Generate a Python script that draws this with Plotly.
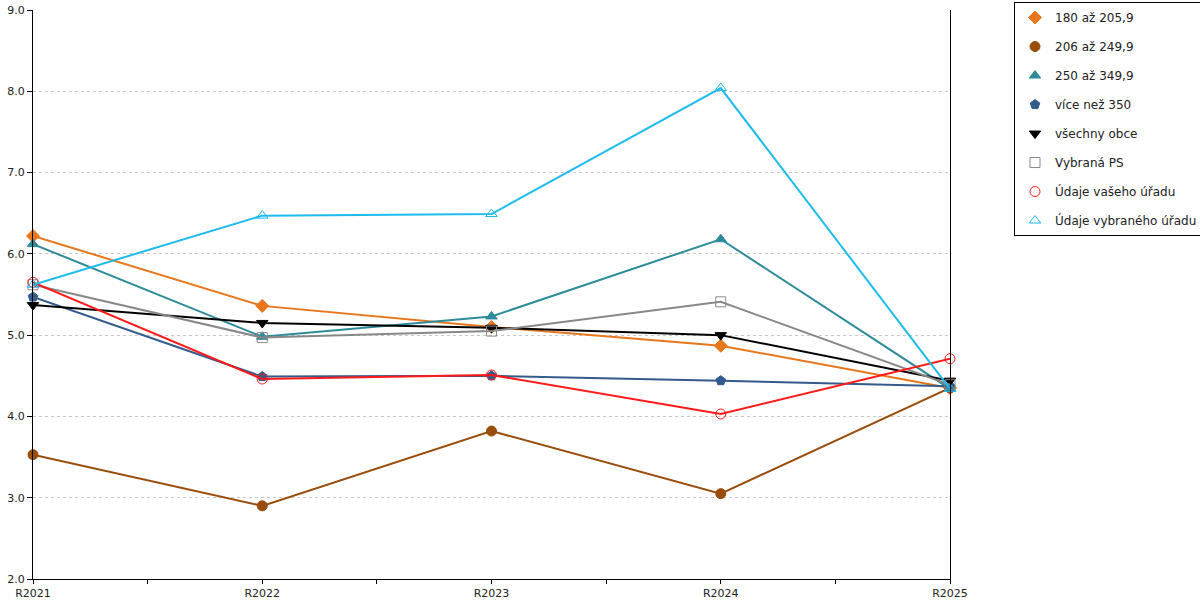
import plotly.graph_objects as go

roky = ['R2021', 'R2022', 'R2023', 'R2024', 'R2025']

s180 = [6.22, 5.36, 5.10, 4.87, 4.35]
s206 = [3.53, 2.90, 3.82, 3.05, 4.35]
s250 = [6.12, 4.98, 5.23, 6.18, 4.34]
s350 = [5.47, 4.49, 4.50, 4.44, 4.37]
vsechny = [5.37, 5.15, 5.09, 5.00, 4.44]
vybrana_ps = [5.62, 4.97, 5.05, 5.41, 4.39]
vas_urad = [5.65, 4.46, 4.51, 4.03, 4.71]
vybrany_urad = [5.62, 6.47, 6.49, 8.04, 4.34]

x = list(range(len(roky)))

serie = [
    ('180 až 205,9', s180, '#E8761C', 'diamond'),
    ('206 až 249,9', s206, '#994D0D', 'circle'),
    ('250 až 349,9', s250, '#2E8B9A', 'triangle-up'),
    ('více než 350', s350, '#335B8C', 'pentagon'),
    ('všechny obce', vsechny, '#000000', 'triangle-down'),
    ('Vybraná PS', vybrana_ps, '#888888', 'square-open'),
    ('Údaje vašeho úřadu', vas_urad, '#FF1A1A', 'circle-open'),
    ('Údaje vybraného úřadu', vybrany_urad, '#1EBBEE', 'triangle-up-open'),
]

fig = go.Figure()
for i, (name, vals, color, symbol) in enumerate(serie):
    # line only, no legend entry
    fig.add_trace(go.Scatter(
        name=name, x=x, y=vals, mode='lines',
        line=dict(color=color, width=2),
        legendgroup=str(i), showlegend=False,
        cliponaxis=False, hoverinfo='skip',
    ))
    # markers, shown in legend (marker only like the original)
    fig.add_trace(go.Scatter(
        name=name, x=x, y=vals, mode='markers',
        marker=dict(color=color, symbol=symbol, size=10,
                    line=dict(color=color, width=1)),
        legendgroup=str(i),
        cliponaxis=False,
    ))

fig.update_layout(
    width=1200, height=600,
    margin=dict(l=33, r=250, t=10, b=21, autoexpand=False),
    plot_bgcolor='white',
    paper_bgcolor='white',
    font=dict(family='DejaVu Sans', size=11, color='#222222'),
    showlegend=True,
    legend=dict(
        x=1.0698, y=1.014, xanchor='left', yanchor='top',
        bordercolor='black', borderwidth=1,
        font=dict(size=12),
        tracegroupgap=10,
        traceorder='grouped',
        itemwidth=30,
    ),
)
fig.update_xaxes(
    range=[0, 4],
    tickvals=x, ticktext=roky,
    ticks='outside', ticklen=4, tickcolor='black',
    showline=True, linecolor='black', linewidth=1,
    showgrid=False, zeroline=False,
    minor=dict(dtick=0.5, tick0=0, ticks='outside', ticklen=4, tickcolor='black'),
)
fig.update_yaxes(
    range=[2, 9], dtick=1, tickformat='.1f',
    ticks='outside', ticklen=5, tickcolor='black',
    showline=True, linecolor='black', linewidth=1, mirror=True,
    showgrid=True, gridcolor='#c8c8c8', griddash='dot', gridwidth=1,
    zeroline=False,
)

# page body has a default 8px margin; drop it so the figure fills the window
fig.write_html('out.html', config={'displayModeBar': False},
               post_script="document.body.style.margin='0px';")
